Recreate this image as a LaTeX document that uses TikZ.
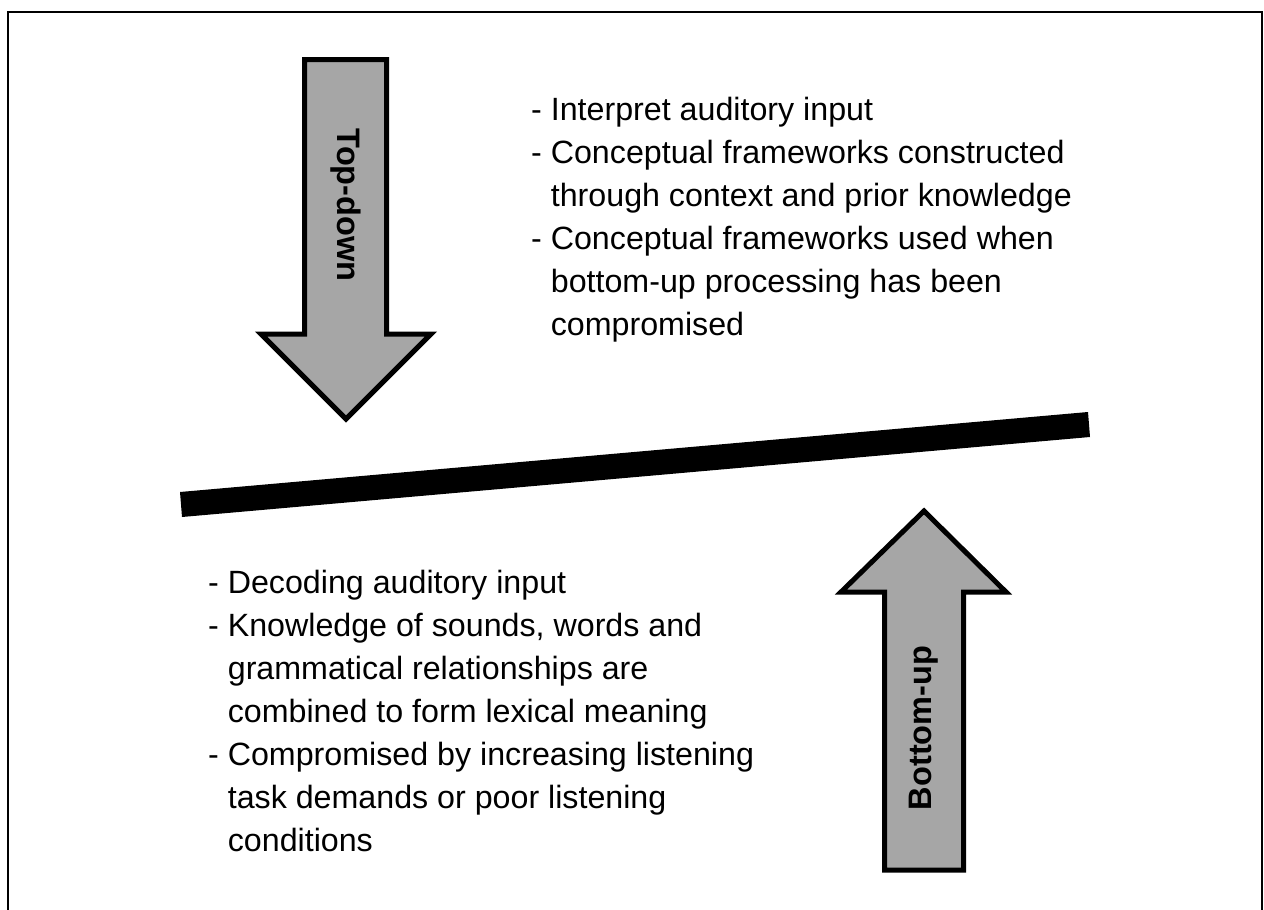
\documentclass[tikz,border=0pt]{standalone}
\usepackage{fontspec}
\setmainfont{Liberation Sans}
\definecolor{arrowgray}{HTML}{A6A6A6}
\begin{document}
\begin{tikzpicture}[x=1pt,y=-1pt,
  txt/.style={anchor=base west,inner sep=0pt,font=\fontsize{32.2}{43}\selectfont},
  lbl/.style={inner sep=0pt,font=\fontsize{32.5}{40}\selectfont\bfseries},
  bigarrow/.style={draw=black,fill=arrowgray,line width=5pt,line join=miter}]
\useasboundingbox (0,0) rectangle (1264,910);
% frame
\draw[line width=2pt] (7.5,910) -- (7.5,12) -- (1261.5,12) -- (1261.5,910);
% top-down arrow
\draw[bigarrow] (304.5,59.5) -- (386.5,59.5) -- (386.5,334) -- (431,334) -- (346,419) -- (261,334) -- (304.5,334) -- cycle;
\node[lbl,rotate=-90] (td) at (345.5,205) {Top-down};
% bottom-up arrow
\draw[bigarrow] (884.5,870) -- (963.5,870) -- (963.5,592) -- (1006,592) -- (924,511) -- (841,592) -- (884.5,592) -- cycle;
\node[lbl,rotate=90] (bu) at (924,728) {Bottom-up};
% bar
\fill[black] (180,492) -- (1088,412) -- (1090,437) -- (182,517) -- cycle;
% top text
\node[txt] (t1) at (531,120) {- Interpret auditory input};
\node[txt] (t2) at (531,163) {- Conceptual frameworks constructed};
\node[txt] (t3) at (531,206) {\hphantom{- }through context and prior knowledge};
\node[txt] (t4) at (531,249) {- Conceptual frameworks used when};
\node[txt] (t5) at (531,292) {\hphantom{- }bottom-up processing has been};
\node[txt] (t6) at (531,335) {\hphantom{- }compromised};
% bottom text
\node[txt] (b1) at (208,593) {- Decoding auditory input};
\node[txt] (b2) at (208,636) {- Knowledge of sounds, words and};
\node[txt] (b3) at (208,679) {\hphantom{- }grammatical relationships are};
\node[txt] (b4) at (208,722) {\hphantom{- }combined to form lexical meaning};
\node[txt] (b5) at (208,765) {- Compromised by increasing listening};
\node[txt] (b6) at (208,808) {\hphantom{- }task demands or poor listening};
\node[txt] (b7) at (208,851) {\hphantom{- }conditions};
\end{tikzpicture}
\end{document}
